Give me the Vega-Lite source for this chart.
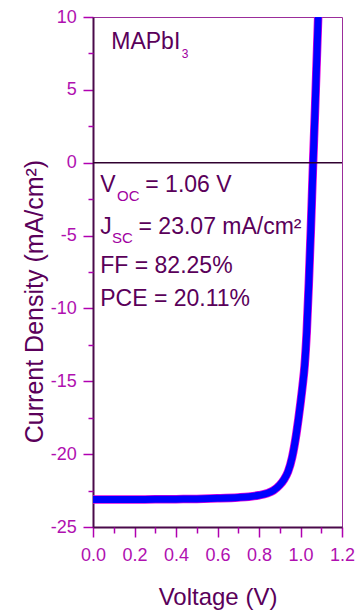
{
  "$schema": "https://vega.github.io/schema/vega-lite/v6.json",
  "width": 249,
  "height": 510,
  "autosize": {"type": "none"},
  "padding": {"left": 93, "top": 17, "right": 14, "bottom": 83},
  "background": "white",
  "config": {
    "view": {"stroke": "#9b2d9b", "strokeWidth": 1},
    "font": "Liberation Sans"
  },
  "datasets": {
    "jv": [
      {"voltage": 0.00, "current": -23.12},
      {"voltage": 0.10, "current": -23.12},
      {"voltage": 0.20, "current": -23.11},
      {"voltage": 0.30, "current": -23.10},
      {"voltage": 0.40, "current": -23.09},
      {"voltage": 0.50, "current": -23.07},
      {"voltage": 0.60, "current": -23.03},
      {"voltage": 0.70, "current": -22.97},
      {"voltage": 0.75, "current": -22.92},
      {"voltage": 0.80, "current": -22.82},
      {"voltage": 0.84, "current": -22.68},
      {"voltage": 0.87, "current": -22.49},
      {"voltage": 0.90, "current": -22.12},
      {"voltage": 0.92, "current": -21.75},
      {"voltage": 0.94, "current": -21.2},
      {"voltage": 0.96, "current": -20.2},
      {"voltage": 0.98, "current": -18.6},
      {"voltage": 0.99, "current": -17.6},
      {"voltage": 1.00, "current": -16.5},
      {"voltage": 1.01, "current": -15.3},
      {"voltage": 1.02, "current": -13.9},
      {"voltage": 1.03, "current": -11.6},
      {"voltage": 1.04, "current": -8.3},
      {"voltage": 1.05, "current": -4.5},
      {"voltage": 1.06, "current": -0.3},
      {"voltage": 1.07, "current": 3.6},
      {"voltage": 1.08, "current": 7.8},
      {"voltage": 1.09, "current": 12.0}
    ],
    "zero": [{"current": 0}],
    "notes": [
      {"note": "MAPbI", "voltage": 0.088, "current": 7.78},
      {"note": "V", "voltage": 0.035, "current": -2.01},
      {"note": "= 1.06 V", "voltage": 0.252, "current": -2.01},
      {"note": "J", "voltage": 0.035, "current": -4.89},
      {"note": "= 23.07 mA/cm²", "voltage": 0.2195, "current": -4.89},
      {"note": "FF = 82.25%", "voltage": 0.035, "current": -7.57},
      {"note": "PCE = 20.11%", "voltage": 0.035, "current": -9.84}
    ],
    "subs": [
      {"note": "OC", "voltage": 0.1155, "current": -2.61},
      {"note": "SC", "voltage": 0.0914, "current": -5.53}
    ],
    "small": [
      {"note": "3", "voltage": 0.428, "current": 7.17}
    ]
  },
  "layer": [
    {
      "data": {"name": "jv"},
      "mark": {"type": "line", "color": "#e000e0", "strokeWidth": 8.5, "clip": true, "interpolate": "monotone"},
      "encoding": {
        "x": {
          "field": "voltage", "type": "quantitative",
          "scale": {"domain": [0, 1.2], "nice": false, "zero": false},
          "axis": {
            "orient": "bottom",
            "values": [0, 0.2, 0.4, 0.6, 0.8, 1.0, 1.2],
            "format": ".1f",
            "grid": false,
            "domainColor": "#4a0a4a", "domainWidth": 2,
            "tickColor": "#b000b0", "tickWidth": 1.5, "tickSize": 10,
            "labelFont": "Liberation Sans", "labelFontSize": 18, "labelColor": "#b010b0",
            "labelBaseline": "alphabetic", "labelPadding": 23.7,
            "labelFlush": false, "labelOverlap": false,
            "title": "Voltage (V)",
            "titleFont": "Liberation Sans", "titleFontSize": 24, "titleFontWeight": "normal",
            "titleColor": "#5a005a",
            "titleX": 124.5, "titleY": 77, "titleBaseline": "alphabetic", "titleAlign": "center"
          }
        },
        "y": {
          "field": "current", "type": "quantitative",
          "scale": {"domain": [-25, 10], "nice": false, "zero": false},
          "axis": {
            "orient": "left",
            "values": [-25, -20, -15, -10, -5, 0, 5, 10],
            "labelExpr": "datum.value < 0 ? '-' + abs(datum.value) : '' + datum.value",
            "grid": false,
            "domainColor": "#4a0a4a", "domainWidth": 2,
            "tickColor": "#b000b0", "tickWidth": 1.5, "tickSize": 10,
            "labelFont": "Liberation Sans", "labelFontSize": 18, "labelColor": "#b010b0",
            "labelPadding": 6.7, "labelFlush": false, "labelOverlap": false,
            "title": "Current Density (mA/cm²)",
            "titleFont": "Liberation Sans", "titleFontSize": 25, "titleFontWeight": "normal",
            "titleColor": "#5a005a",
            "titleAngle": 270, "titleX": -51, "titleY": 284,
            "titleBaseline": "alphabetic", "titleAlign": "center"
          }
        }
      }
    },
    {
      "data": {"name": "jv"},
      "mark": {"type": "line", "color": "#0000ff", "strokeWidth": 7, "clip": true, "interpolate": "monotone"},
      "encoding": {
        "x": {"field": "voltage", "type": "quantitative", "scale": {"domain": [0, 1.2], "nice": false, "zero": false}, "axis": null},
        "y": {"field": "current", "type": "quantitative", "scale": {"domain": [-25, 10], "nice": false, "zero": false}, "axis": null}
      }
    },
    {
      "data": {"name": "zero"},
      "mark": {"type": "rule", "color": "#300030", "strokeWidth": 1.5},
      "encoding": {
        "y": {
          "field": "current", "type": "quantitative",
          "scale": {"domain": [-25, 10], "nice": false, "zero": false},
          "axis": {
            "orient": "left",
            "values": [7.5, 2.5, -2.5, -7.5, -12.5, -17.5, -22.5],
            "grid": false, "domain": false, "labels": false, "title": null,
            "tickColor": "#b000b0", "tickWidth": 1.5, "tickSize": 5
          }
        }
      }
    },
    {
      "data": {"name": "notes"},
      "mark": {"type": "text", "align": "left", "baseline": "alphabetic", "font": "Liberation Sans", "fontSize": 23, "color": "#5a005a"},
      "encoding": {
        "x": {"field": "voltage", "type": "quantitative", "scale": {"domain": [0, 1.2], "nice": false, "zero": false}, "axis": null},
        "y": {"field": "current", "type": "quantitative", "scale": {"domain": [-25, 10], "nice": false, "zero": false}, "axis": null},
        "text": {"field": "note"}
      }
    },
    {
      "data": {"name": "subs"},
      "mark": {"type": "text", "align": "left", "baseline": "alphabetic", "font": "Liberation Sans", "fontSize": 15, "color": "#a000a0"},
      "encoding": {
        "x": {
          "field": "voltage", "type": "quantitative",
          "scale": {"domain": [0, 1.2], "nice": false, "zero": false},
          "axis": {
            "orient": "bottom",
            "values": [0.1, 0.3, 0.5, 0.7, 0.9, 1.1],
            "grid": false, "domain": false, "labels": false, "title": null,
            "tickColor": "#b000b0", "tickWidth": 1.5, "tickSize": 6
          }
        },
        "y": {"field": "current", "type": "quantitative", "scale": {"domain": [-25, 10], "nice": false, "zero": false}, "axis": null},
        "text": {"field": "note"}
      }
    },
    {
      "data": {"name": "small"},
      "mark": {"type": "text", "align": "left", "baseline": "alphabetic", "font": "Liberation Sans", "fontSize": 12, "color": "#a000a0"},
      "encoding": {
        "x": {"field": "voltage", "type": "quantitative", "scale": {"domain": [0, 1.2], "nice": false, "zero": false}, "axis": null},
        "y": {"field": "current", "type": "quantitative", "scale": {"domain": [-25, 10], "nice": false, "zero": false}, "axis": null},
        "text": {"field": "note"}
      }
    }
  ],
  "resolve": {"axis": {"x": "independent", "y": "independent"}}
}
